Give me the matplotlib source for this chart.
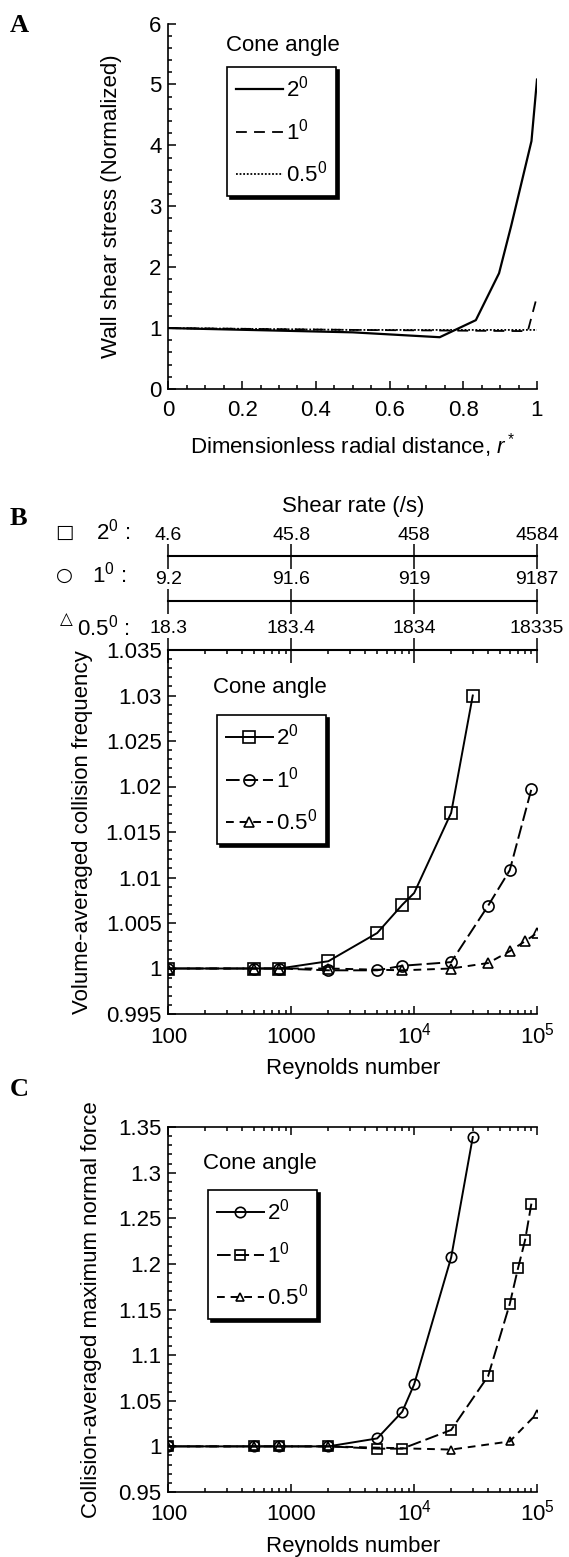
import numpy as np
import matplotlib
matplotlib.use('Agg')
import matplotlib.pyplot as plt
import matplotlib.ticker as mticker

plt.rcParams['font.family'] = ['Liberation Sans', 'DejaVu Sans']
plt.rcParams['mathtext.fontset'] = 'custom'
plt.rcParams['mathtext.rm'] = 'Liberation Sans'
plt.rcParams['mathtext.it'] = 'Liberation Sans:italic'
plt.rcParams['mathtext.bf'] = 'Liberation Sans:bold'
plt.rcParams['axes.linewidth'] = 1.2

# %%
# Data
angle_labels = ['2$^0$', '1$^0$', '0.5$^0$']

# A: wall shear stress vs r*
r_2deg = [0.0, 0.5, 0.736, 0.834, 0.897, 0.93, 0.985, 1.0]
tau_2deg = [1.0, 0.93, 0.85, 1.13, 1.9, 2.68, 4.07, 5.08]
r_1deg = [0.0, 0.5, 0.975, 1.0]
tau_1deg = [1.0, 0.97, 0.95, 1.52]
r_05deg = [0.0, 0.5, 1.0]
tau_05deg = [1.0, 0.97, 0.97]

# B: volume-averaged collision frequency vs Re
re_b_2 = [100, 500, 800, 2000, 5000, 8000, 10000, 20000, 30000]
cf_2 = [1.0, 1.0, 1.0, 1.0008, 1.0039, 1.0070, 1.0083, 1.0171, 1.0300]
re_b_1 = [100, 500, 800, 2000, 5000, 8000, 20000, 40000, 60000, 90000]
cf_1 = [1.0, 1.0, 1.0, 0.9998, 0.9998, 1.0003, 1.0007, 1.0069, 1.0108, 1.0197]
re_b_05 = [100, 500, 800, 2000, 8000, 20000, 40000, 60000, 80000, 100000]
cf_05 = [1.0, 1.0, 1.0, 1.0, 0.9998, 1.0, 1.0006, 1.0019, 1.0030, 1.0039]

# shear rate scales (top of B)
re_ticks = [100, 1000, 10000, 100000]
re_ticklabels = ['100', '1000', '$10^4$', '$10^5$']
shear_2deg = ['4.6', '45.8', '458', '4584']
shear_1deg = ['9.2', '91.6', '919', '9187']
shear_05deg = ['18.3', '183.4', '1834', '18335']

# C: collision-averaged maximum normal force vs Re
re_c_2 = [100, 500, 800, 2000, 5000, 8000, 10000, 20000, 30000]
fn_2 = [1.0, 1.0, 1.0, 1.0, 1.0087, 1.038, 1.068, 1.207, 1.339]
re_c_1 = [100, 500, 800, 2000, 5000, 8000, 20000, 40000, 60000, 70000, 80000, 90000]
fn_1 = [1.0, 1.0, 1.0, 1.0, 0.9975, 0.9975, 1.018, 1.077, 1.156, 1.195, 1.226, 1.266]
re_c_05 = [100, 500, 800, 2000, 20000, 60000, 100000]
fn_05 = [1.0, 1.0, 1.0, 1.0, 0.9965, 1.0054, 1.036]

# %%
W, H = 569, 1557
fig = plt.figure(figsize=(W / 100, H / 100), dpi=100)
FS = 16


def box(left, top, right, bottom):
    return [left / W, 1 - bottom / H, (right - left) / W, (bottom - top) / H]


def fpos(x, y):
    return x / W, 1 - y / H


def gfmt(v, p):
    s = f'{v:.3f}'.rstrip('0').rstrip('.')
    return s


def style_axes(ax):
    ax.tick_params(which='both', direction='in', labelsize=FS, width=1.1)
    ax.tick_params(which='major', length=6)
    ax.tick_params(which='minor', length=3)
    ax.spines['right'].set_visible(False)


def add_legend(ax, x, y):
    leg = ax.legend(loc='upper left', bbox_to_anchor=fpos(x, y),
                    bbox_transform=fig.transFigure, borderaxespad=0,
                    fontsize=FS, fancybox=False, framealpha=1,
                    shadow={'color': 'black', 'alpha': 1},
                    handlelength=2.1, handletextpad=0.15, labelspacing=0.75,
                    borderpad=0.4, numpoints=1)
    leg.get_frame().set_edgecolor('black')
    leg.get_frame().set_linewidth(1.2)
    return leg


DASH_1 = (0, (7, 2.5))
DASH_05 = (0, (4, 3))

# %%
# Panel A
axA = fig.add_axes(box(168.5, 23.5, 537, 389))
axA.plot(r_2deg, tau_2deg, color='k', lw=1.6, label=angle_labels[0])
axA.plot(r_1deg, tau_1deg, color='k', lw=1.3, ls=(0, (6, 4)), label=angle_labels[1])
axA.plot(r_05deg, tau_05deg, color='k', lw=1.3, ls=(0, (1, 1)), label=angle_labels[2])
axA.set_xlim(0, 1)
axA.set_ylim(0, 6)
axA.xaxis.set_major_locator(mticker.MultipleLocator(0.2))
axA.xaxis.set_minor_locator(mticker.MultipleLocator(0.05))
axA.yaxis.set_major_locator(mticker.MultipleLocator(1))
axA.yaxis.set_minor_locator(mticker.MultipleLocator(0.2))
axA.xaxis.set_major_formatter(mticker.FuncFormatter(gfmt))
style_axes(axA)
axA.spines['top'].set_visible(False)
axA.tick_params(axis='x', pad=8)
axA.tick_params(axis='y', pad=5)
axA.set_xlabel('Dimensionless radial distance, $r^*$', fontsize=FS)
axA.set_ylabel('Wall shear stress (Normalized)', fontsize=FS)
axA.xaxis.set_label_coords(0.5, -0.115)
axA.yaxis.set_label_coords(-0.125, 0.5)
fig.text(*fpos(226, 46), 'Cone angle', fontsize=FS, va='center', ha='left')
add_legend(axA, 227, 67)

# %%
# Panel B
axB = fig.add_axes(box(168.5, 650, 537, 1014))
axB.plot(re_b_2, cf_2, color='k', lw=1.4, marker='s', ms=8.5, mfc='none', mew=1.2,
         label=angle_labels[0])
axB.plot(re_b_1, cf_1, color='k', lw=1.4, ls=DASH_1, marker='o', ms=8, mfc='none',
         mew=1.2, label=angle_labels[1])
axB.plot(re_b_05, cf_05, color='k', lw=1.4, ls=DASH_05, marker='^', ms=7, mfc='none',
         mew=1.2, label=angle_labels[2])
axB.set_xscale('log')
axB.set_xlim(100, 100000)
axB.set_ylim(0.995, 1.035)
axB.set_xticks(re_ticks, re_ticklabels)
axB.yaxis.set_major_locator(mticker.MultipleLocator(0.005))
axB.yaxis.set_minor_locator(mticker.MultipleLocator(0.001))
axB.yaxis.set_major_formatter(mticker.FuncFormatter(gfmt))
style_axes(axB)
axB.tick_params(axis='x', which='minor', top=True)
axB.tick_params(axis='x', pad=21)
axB.tick_params(axis='y', pad=5)
for t in axB.get_xticklabels():
    t.set_va('baseline')
axB.set_xlabel('Reynolds number', fontsize=FS)
axB.set_ylabel('Volume-averaged collision frequency', fontsize=FS)
axB.xaxis.set_label_coords(0.5, -0.12)
axB.yaxis.set_label_coords(-0.205, 0.5)

# shear rate axes on top of B
for loc, labs in [(1.258, shear_2deg), (1.135, shear_1deg), (1.0, shear_05deg)]:
    sec = axB.secondary_xaxis(loc, functions=(lambda x: x, lambda x: x))
    sec.set_xticks(re_ticks, labs)
    sec.xaxis.set_minor_locator(mticker.NullLocator())
    sec.tick_params(direction='inout', length=18, width=1.1, pad=0, labelsize=14)
    for sp in sec.spines.values():
        sp.set_linewidth(1.5)

axB.text(0.5, 1.395, 'Shear rate (/s)', transform=axB.transAxes, fontsize=FS,
         ha='center', va='center')
fig.text(*fpos(64, 532), '\u25a1', fontsize=14, ha='center', va='center',
         family='DejaVu Sans')
fig.text(*fpos(96, 532), '2$^0$ :', fontsize=FS, ha='left', va='center')
fig.text(*fpos(64, 575), '\u25cb', fontsize=14, ha='center', va='center',
         family='DejaVu Sans')
fig.text(*fpos(92, 575), '1$^0$ :', fontsize=FS, ha='left', va='center')
fig.text(*fpos(66, 619), '\u25b3', fontsize=12, ha='center', va='center',
         family='DejaVu Sans')
fig.text(*fpos(77, 628), '0.5$^0$ :', fontsize=FS, ha='left', va='center')

fig.text(*fpos(213, 688), 'Cone angle', fontsize=FS, va='center', ha='left')
add_legend(axB, 217, 715)

# %%
# Panel C
axC = fig.add_axes(box(168.5, 1127, 537, 1492))
axC.plot(re_c_2, fn_2, color='k', lw=1.4, marker='o', ms=7.5, mfc='none', mew=1.2,
         label=angle_labels[0])
axC.plot(re_c_1, fn_1, color='k', lw=1.4, ls=DASH_1, marker='s', ms=7, mfc='none',
         mew=1.2, label=angle_labels[1])
axC.plot(re_c_05, fn_05, color='k', lw=1.4, ls=DASH_05, marker='^', ms=5.5, mfc='none',
         mew=1.2, label=angle_labels[2])
axC.set_xscale('log')
axC.set_xlim(100, 100000)
axC.set_ylim(0.95, 1.35)
axC.set_xticks(re_ticks, re_ticklabels)
axC.yaxis.set_major_locator(mticker.MultipleLocator(0.05))
axC.yaxis.set_minor_locator(mticker.MultipleLocator(0.01))
axC.yaxis.set_major_formatter(mticker.FuncFormatter(gfmt))
style_axes(axC)
axC.tick_params(axis='x', which='both', top=True)
axC.tick_params(axis='x', pad=20.5)
axC.tick_params(axis='y', pad=5)
for t in axC.get_xticklabels():
    t.set_va('baseline')
axC.set_xlabel('Reynolds number', fontsize=FS)
axC.set_ylabel('Collision-averaged maximum normal force', fontsize=FS)
axC.xaxis.set_label_coords(0.5, -0.12)
axC.yaxis.set_label_coords(-0.18, 0.5)
fig.text(*fpos(203, 1163), 'Cone angle', fontsize=FS, va='center', ha='left')
add_legend(axC, 208, 1190)

# panel letters
for lab, y in [('A', 26), ('B', 519), ('C', 1089)]:
    fig.text(*fpos(10, y), lab, fontsize=19, fontweight='bold',
             family='Liberation Serif', ha='left', va='center')

fig.savefig('out.png', dpi=100)
